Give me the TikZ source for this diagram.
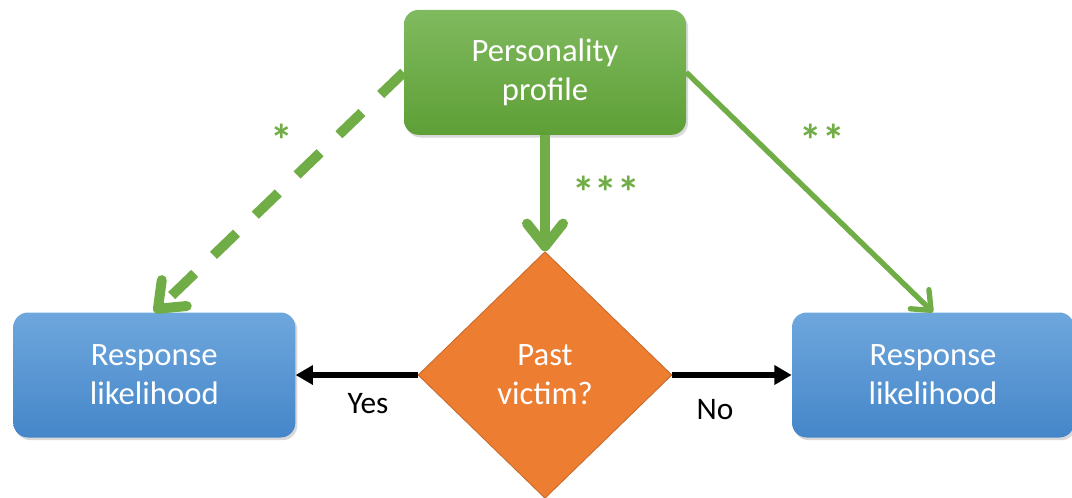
\documentclass[tikz,border=0pt]{standalone}
\usepackage{fontspec}
\setmainfont{Carlito}
\usetikzlibrary{shapes.geometric,arrows.meta,shadows}

\definecolor{profgreen}{HTML}{70AD47}
\definecolor{profgreentop}{HTML}{80BA5F}
\definecolor{profgreenbot}{HTML}{5E9F36}
\definecolor{respbluetop}{HTML}{6EA7DD}
\definecolor{respbluebot}{HTML}{4586C9}
\definecolor{victimorange}{HTML}{ED7D31}
\definecolor{victimedge}{HTML}{C5682A}

\tikzset{
  boxtext/.style={text=white, align=center, font=\fontsize{24.5}{29.25}\selectfont},
  softshadow/.style={drop shadow={opacity=0.3, shadow xshift=1.5pt, shadow yshift=-2pt}},
  profbox/.style={boxtext, rectangle, rounded corners=11pt, minimum width=211.5pt,
    minimum height=93.75pt, top color=profgreentop, bottom color=profgreenbot, softshadow},
  respbox/.style={boxtext, rectangle, rounded corners=11pt, minimum width=211.5pt,
    minimum height=93.75pt, top color=respbluetop, bottom color=respbluebot, softshadow},
  victimbox/.style={boxtext, diamond, inner sep=0pt, minimum width=190.5pt,
    minimum height=185pt, fill=victimorange, draw=victimedge, line width=0.6pt},
  greenarrow/.style={draw=profgreen},
  bigbarb/.style={-{Straight Barb[length=17pt, width=27pt, round]}},
  smallbarb/.style={-{Straight Barb[length=12pt, width=20pt, round]}},
  blackarrow/.style={draw=black, line width=4.5pt, -{Triangle[length=13pt, width=14pt]}},
  stars/.style={text=profgreen, font=\fontsize{34}{34}\bfseries\selectfont},
  branch/.style={font=\fontsize{23.5}{28}\selectfont}
}

\begin{document}
\begin{tikzpicture}[x=0.75pt, y=-0.75pt]

        \useasboundingbox (0,0) rectangle (1072,497);

        % Decision diamond in the middle
        \node[victimbox] (victim) at (545,375) {Past\\victim?};

        % Profile on top
        \node[profbox, above of=victim, node distance=227pt] (profile) {Personality\\profile};

        % Both outcomes
        \node[respbox, left of=victim, node distance=293pt] (respleft) {Response\\likelihood};
        \node[respbox, right of=victim, node distance=291pt] (respright) {Response\\likelihood};

        % Effects of the profile
        \draw[greenarrow, bigbarb, line width=7.5pt, dash pattern=on 24pt off 19.5pt] (profile.west) -- (respleft.north);
        \draw[greenarrow, smallbarb, line width=4pt] (profile.east) -- (respright.north);
        \draw[greenarrow, bigbarb, line width=7.5pt] (profile.south) -- (victim.north);

        % Branches of the decision
        \draw[blackarrow] (victim.west) -- (respleft.east);
        \draw[blackarrow] (victim.east) -- (respright.west);

        % Significance marks
        \node[stars] (starone) at (282,140) {*};
        \node[stars] (startwo) at (822,140) {**};
        \node[stars] (starthree) at (606,192) {***};

        \node[branch] (yes) at (368,404) {Yes};
        \node[branch] (no) at (715,410) {No};

        \end{tikzpicture}
\end{document}
